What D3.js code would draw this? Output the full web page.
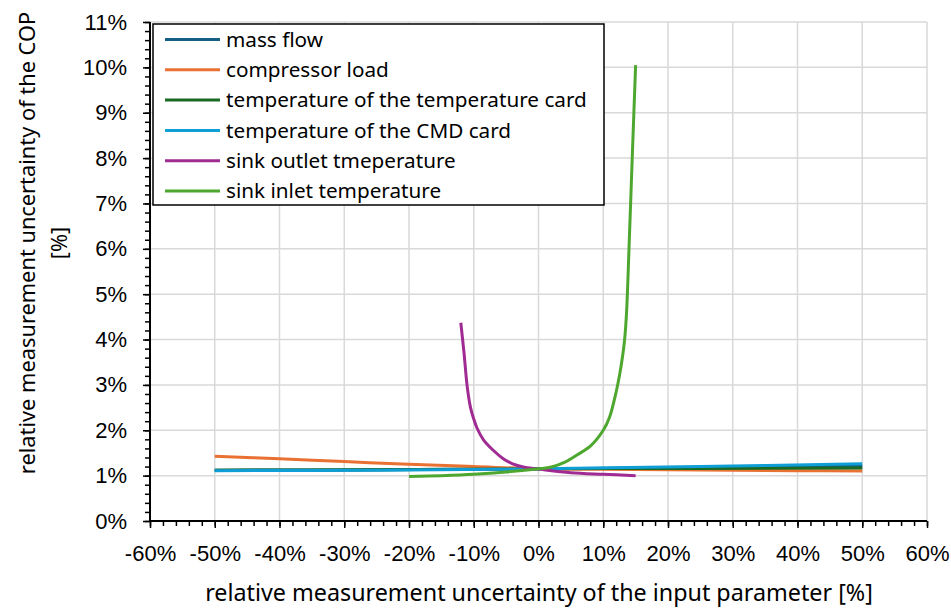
<!DOCTYPE html>
<html>
<head>
<meta charset="utf-8">
<script src="https://cdn.jsdelivr.net/npm/d3@7"></script>
<style>
  html, body { margin: 0; padding: 0; background: #fff; }
  svg { display: block; }
</style>
</head>
<body>
<svg id="chart" width="951" height="608"></svg>
<script>
// ---- data (percent) ----
const xTicks = [-60, -50, -40, -30, -20, -10, 0, 10, 20, 30, 40, 50, 60];
const yTicks = [0, 1, 2, 3, 4, 5, 6, 7, 8, 9, 10, 11];

const seriesNames = [
  "mass flow",
  "compressor load",
  "temperature of the temperature card",
  "temperature of the CMD card",
  "sink outlet tmeperature",
  "sink inlet temperature"
];
const seriesColors = ["#156082", "#E97132", "#196B24", "#0F9ED5", "#A02B93", "#4EA72E"];

const massFlowX = [-50, -25, 0, 25, 50];
const massFlowY = [1.12, 1.13, 1.15, 1.18, 1.21];

const compressorX = [-50, -40, -30, -20, -10, 0, 10, 20, 30, 40, 50];
const compressorY = [1.43, 1.37, 1.31, 1.25, 1.20, 1.15, 1.14, 1.13, 1.12, 1.11, 1.10];

const tempCardX = [-50, -25, 0, 25, 50];
const tempCardY = [1.12, 1.13, 1.15, 1.16, 1.17];

const cmdCardX = [-50, -25, 0, 25, 50];
const cmdCardY = [1.11, 1.12, 1.15, 1.20, 1.26];

const sinkOutX = [-12, -11.5, -11, -10.5, -10, -9.5, -8.5, -7, -5.5, -4, -2, 0, 5, 10, 15];
const sinkOutY = [4.37, 3.70, 2.95, 2.50, 2.25, 2.05, 1.79, 1.56, 1.38, 1.26, 1.18, 1.145, 1.065, 1.03, 1.0];

const sinkInX = [-20, -15, -10, -5, 0, 2, 4, 6, 8, 10, 11, 12, 12.5, 13, 13.3, 13.6, 14, 14.5, 15];
const sinkInY = [0.98, 1.0, 1.03, 1.08, 1.15, 1.19, 1.29, 1.46, 1.65, 2.0, 2.3, 2.85, 3.2, 3.65, 4.0, 4.6, 6.1, 8.1, 10.05];

const seriesX = [massFlowX, compressorX, tempCardX, cmdCardX, sinkOutX, sinkInX];
const seriesY = [massFlowY, compressorY, tempCardY, cmdCardY, sinkOutY, sinkInY];

// ---- layout ----
const svg = d3.select("#chart");
const L = 150, R = 927, T = 22, B = 521;

const x = d3.scaleLinear().domain([-60, 60]).range([L, R]);
const y = d3.scaleLinear().domain([0, 11]).range([B, T]);

const tickFont = "'Liberation Sans', Arial, sans-serif";
const textFont = "'Noto Sans', 'Open Sans', sans-serif";

// gridlines
const grid = svg.append("g");
grid.selectAll("line.v").data(xTicks).join("line")
  .attr("x1", d => x(d)).attr("x2", d => x(d))
  .attr("y1", T).attr("y2", B)
  .attr("stroke", "#d9d9d9").attr("stroke-width", 1.5);
grid.selectAll("line.h").data(yTicks).join("line")
  .attr("x1", L).attr("x2", R)
  .attr("y1", d => y(d)).attr("y2", d => y(d))
  .attr("stroke", "#d9d9d9").attr("stroke-width", 1.5);

// series
const line = d3.line().curve(d3.curveCatmullRom.alpha(0.5));
seriesNames.forEach((name, i) => {
  const pts = seriesX[i].map((v, j) => [x(v), y(seriesY[i][j])]);
  svg.append("path")
    .attr("d", line(pts))
    .attr("fill", "none")
    .attr("stroke", seriesColors[i])
    .attr("stroke-width", 3)
    .attr("stroke-linecap", "butt")
    .attr("stroke-linejoin", "round");
});

// axes
const xMinor = d3.range(-60, 60.001, 2);
const yMinor = d3.range(0, 11.001, 0.2);

const xAxis = d3.axisBottom(x).tickValues(xTicks).tickFormat(d => d + "%").tickSize(7).tickPadding(17);
const gx = svg.append("g").attr("transform", `translate(0,${B})`).call(xAxis);
gx.select(".domain").remove();
gx.selectAll(".tick line").attr("stroke", "#000").attr("stroke-width", 1.5);
gx.selectAll(".tick text").attr("font-family", tickFont).attr("font-size", 22).attr("fill", "#000");

const xAxisMinor = d3.axisBottom(x).tickValues(xMinor).tickFormat("").tickSize(5);
const gxm = svg.append("g").attr("transform", `translate(0,${B})`).call(xAxisMinor);
gxm.select(".domain").remove();
gxm.selectAll(".tick line").attr("stroke", "#000").attr("stroke-width", 1.5);

const yAxis = d3.axisLeft(y).tickValues(yTicks).tickFormat(d => d + "%").tickSize(7).tickPadding(16);
const gy = svg.append("g").attr("transform", `translate(${L},0)`).call(yAxis);
gy.select(".domain").remove();
gy.selectAll(".tick line").attr("stroke", "#000").attr("stroke-width", 1.5);
gy.selectAll(".tick text").attr("font-family", tickFont).attr("font-size", 22).attr("fill", "#000");

const yAxisMinor = d3.axisLeft(y).tickValues(yMinor).tickFormat("").tickSize(5);
const gym = svg.append("g").attr("transform", `translate(${L},0)`).call(yAxisMinor);
gym.select(".domain").remove();
gym.selectAll(".tick line").attr("stroke", "#000").attr("stroke-width", 1.5);

// axis lines
svg.append("line").attr("x1", L).attr("x2", R).attr("y1", B).attr("y2", B)
  .attr("stroke", "#000").attr("stroke-width", 2);
svg.append("line").attr("x1", L).attr("x2", L).attr("y1", T).attr("y2", B)
  .attr("stroke", "#000").attr("stroke-width", 2);

// legend
const lg = svg.append("g");
lg.append("rect").attr("x", 153).attr("y", 24).attr("width", 451).attr("height", 181)
  .attr("fill", "#fff").attr("stroke", "#000").attr("stroke-width", 1.5);
seriesNames.forEach((name, i) => {
  const cy = 39.5 + i * 30.3;
  lg.append("line").attr("x1", 165).attr("x2", 220).attr("y1", cy).attr("y2", cy)
    .attr("stroke", seriesColors[i]).attr("stroke-width", 3);
  lg.append("text").attr("x", 226).attr("y", cy).attr("dy", "0.35em")
    .attr("font-family", textFont).attr("font-size", 20.7).attr("fill", "#000")
    .text(name);
});

// axis titles
svg.append("text")
  .attr("x", 539).attr("y", 601)
  .attr("text-anchor", "middle")
  .attr("font-family", textFont).attr("font-size", 23.3).attr("fill", "#000")
  .text("relative measurement uncertainty of the input parameter [%]");

const yt = svg.append("text")
  .attr("transform", "translate(35,243) rotate(-90)")
  .attr("text-anchor", "middle")
  .attr("font-family", textFont).attr("font-size", 21.8).attr("fill", "#000");
yt.append("tspan").attr("x", 0).attr("y", 0).text("relative measurement uncertainty of the COP");
yt.append("tspan").attr("x", 0).attr("y", 32).text("[%]");
</script>
</body>
</html>
